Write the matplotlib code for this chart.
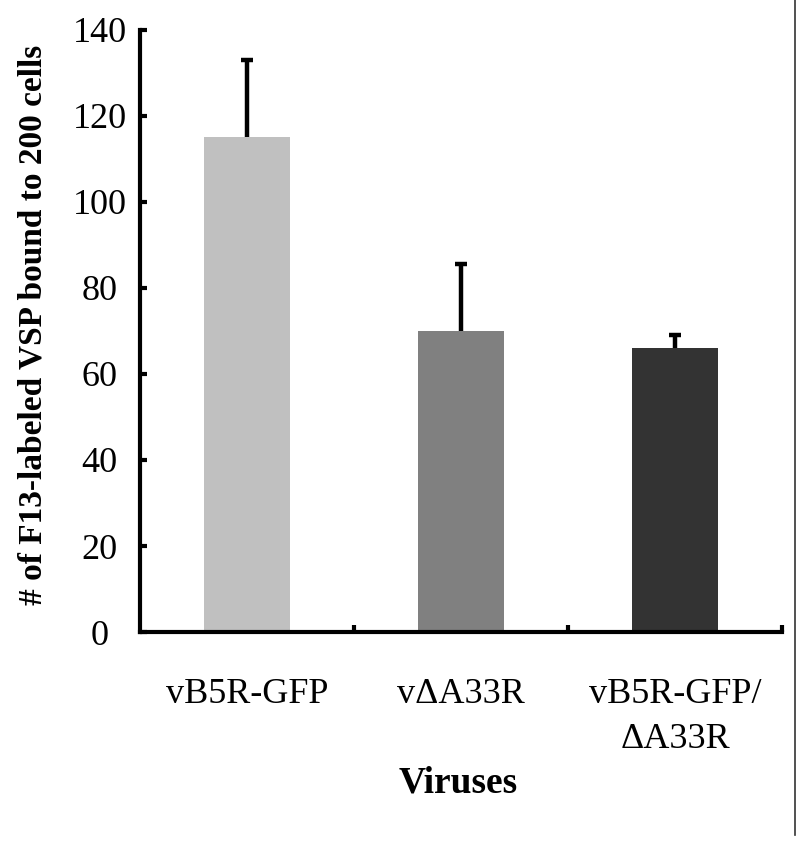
import matplotlib.pyplot as plt
from matplotlib.lines import Line2D

# Data
viruses = ['vB5R-GFP', 'v\u0394A33R', 'vB5R-GFP/\n\u0394A33R']
counts = [115, 70, 66]
errors = [18, 15.5, 3]
colors = ['#c0c0c0', '#808080', '#333333']

plt.rcParams['font.family'] = ['Liberation Serif', 'DejaVu Serif']

fig = plt.figure(figsize=(8, 8.48), dpi=100)
ax = fig.add_axes([0.175, 0.2547, 0.8025, 0.71])

x = [i + 0.5 for i in range(len(viruses))]
ax.bar(x, counts, width=0.4, color=colors, zorder=2)
eb = ax.errorbar(x, counts, yerr=[[0] * len(errors), errors], fmt='none',
                 ecolor='black', elinewidth=3.2, capsize=4.5, capthick=3.2, zorder=3)
# only the upper cap is drawn in the original
eb[1][0].set_visible(False)

ax.set_xlim(0, 3)
ax.set_ylim(0, 140)
ax.set_yticks(range(0, 141, 20))
ax.set_xticks(x)
ax.set_xticklabels(viruses)
ax.set_xticks([1, 2, 3], minor=True)

ax.tick_params(axis='y', direction='in', length=5, width=3, labelsize=26, pad=29)
for lbl in ax.get_yticklabels():
    lbl.set_horizontalalignment('center')
ax.tick_params(axis='x', which='major', length=0, labelsize=26, pad=33)
ax.tick_params(axis='x', which='minor', direction='in', length=5, width=3)
for lbl in ax.get_xticklabels():
    lbl.set_linespacing(1.5)

for s in ['top', 'right']:
    ax.spines[s].set_visible(False)
for s in ['left', 'bottom']:
    ax.spines[s].set_linewidth(3)

ax.set_ylabel('# of F13-labeled VSP bound to 200 cells', fontsize=24,
              fontweight='bold')
ax.yaxis.set_label_coords(-0.143, 0.51)
ax.set_xlabel('Viruses', fontsize=27, fontweight='bold')
ax.xaxis.set_label_coords(0.495, -0.222)

# thin vertical rule at the right edge of the panel
fig.add_artist(Line2D([0.994, 0.994], [0.015, 1.0], color='#333333', lw=1.2))

fig.savefig('out.png', dpi=100)
